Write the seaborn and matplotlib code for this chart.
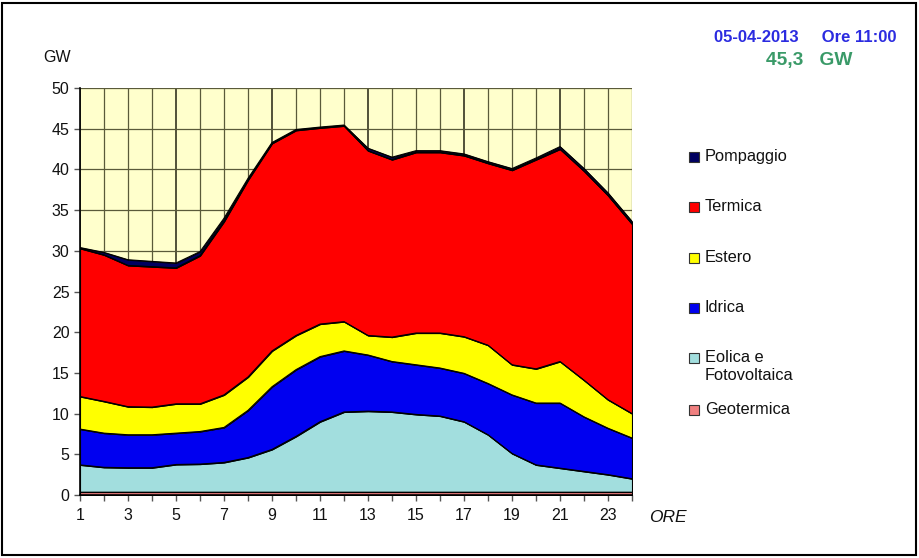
import numpy as np
import pandas as pd
import matplotlib
matplotlib.use("Agg")
import matplotlib.pyplot as plt
from matplotlib.patches import Rectangle
import seaborn as sns

# ---- data (GW per hour) ----
hours = list(range(1, 25))
series_names = ["Geotermica", "Eolica e\nFotovoltaica", "Idrica", "Estero", "Termica", "Pompaggio"]
geotermica = [0.4] * 24
eolica_fv = [3.3, 3.0, 2.95, 2.95, 3.35, 3.4, 3.6, 4.2, 5.2, 6.8, 8.6, 9.8,
             9.9, 9.8, 9.5, 9.3, 8.6, 7.0, 4.7, 3.3, 2.9, 2.5, 2.1, 1.6]
idrica = [4.4, 4.2, 4.05, 4.05, 3.85, 4.0, 4.3, 5.8, 7.7, 8.2, 8.0, 7.5,
          6.9, 6.2, 6.1, 5.9, 5.95, 6.3, 7.2, 7.6, 8.0, 6.7, 5.7, 5.0]
estero = [4.0, 3.9, 3.45, 3.4, 3.6, 3.4, 4.0, 4.1, 4.4, 4.2, 4.0, 3.6,
          2.4, 3.0, 3.9, 4.3, 4.5, 4.7, 3.7, 4.2, 5.1, 4.5, 3.5, 3.0]
termica = [18.2, 18.0, 17.35, 17.25, 16.7, 18.2, 21.3, 24.2, 25.5, 25.2, 24.1, 24.05,
           22.7, 21.8, 22.2, 22.2, 22.25, 22.35, 23.9, 25.7, 26.1, 25.7, 25.1, 23.3]
pompaggio = [0.1, 0.3, 0.7, 0.65, 0.6, 0.5, 0.4, 0.2, 0.1, 0.1, 0.1, 0.1,
             0.3, 0.3, 0.2, 0.2, 0.2, 0.2, 0.2, 0.2, 0.3, 0.3, 0.3, 0.3]
colors = ["#F08080", "#A2DEDE", "#0000F0", "#FFFF00", "#FF0000", "#000060"]
x_ticks = list(range(1, 25, 2))
y_ticks = list(range(0, 51, 5))
date_text = "05-04-2013     Ore 11:00"
peak_text = "45,3   GW"

df = pd.DataFrame({"ORE": hours, "Geotermica": geotermica, "Eolica": eolica_fv,
                   "Idrica": idrica, "Estero": estero, "Termica": termica,
                   "Pompaggio": pompaggio})
cols = ["Geotermica", "Eolica", "Idrica", "Estero", "Termica", "Pompaggio"]

sns.set_theme(style="white")
plt.rcParams["font.family"] = ["Liberation Sans", "DejaVu Sans"]

fig = plt.figure(figsize=(9.2, 5.58), dpi=100)
ax = fig.add_axes([80 / 920, 63 / 558, 552 / 920, 407 / 558])
ax.set_facecolor("#FFFFCC")

ax.stackplot(df["ORE"], [df[c] for c in cols], colors=colors,
             edgecolor="black", linewidth=0.8, zorder=3)
cum = df[cols].cumsum(axis=1)
long = cum.melt(ignore_index=False, var_name="s", value_name="v")
long["ORE"] = np.tile(df["ORE"].values, len(cols))
sns.lineplot(data=long, x="ORE", y="v", units="s", estimator=None,
             color="black", linewidth=0.8, ax=ax, zorder=4, legend=False)

ax.set_xlim(1, 24)
ax.set_ylim(0, 50)
ax.set_xticks(hours, minor=True)
ax.set_xticks(x_ticks)
ax.set_xticklabels([str(t) for t in x_ticks])
ax.set_yticks(y_ticks)
ax.set_xlabel("")
ax.set_ylabel("")

# grid
for h in hours:
    major = (h - 1) % 4 == 0
    ax.axvline(h, color="#222211" if major else "#5a5a3a",
               lw=1.1 if major else 0.9, zorder=1)
for yv in y_ticks:
    ax.axhline(yv, color="#5a5a3a", lw=0.9, zorder=1)

for s in ["top", "right"]:
    ax.spines[s].set_visible(False)
for s in ["left", "bottom"]:
    ax.spines[s].set_color("black")
    ax.spines[s].set_linewidth(1.2)
    ax.spines[s].set_zorder(5)
ax.tick_params(axis="both", which="both", direction="out", length=4, width=1,
               color="#555555", labelsize=11.5, left=True, bottom=True)
ax.tick_params(axis="x", pad=5)
for lab in ax.get_xticklabels() + ax.get_yticklabels():
    lab.set_color("#111111")

fig.text(57 / 920, 1 - 58 / 558, "GW", fontsize=11.5, ha="center", va="center", color="#111111")
fig.text(668 / 920, 1 - 518 / 558, "ORE", fontsize=12.5, style="italic", ha="center", va="center", color="#111111")
fig.text(897 / 920, 1 - 38 / 558, date_text, fontsize=12, fontweight="bold",
         color="#2B2BE0", ha="right", va="center")
fig.text(852 / 920, 1 - 60 / 558, peak_text, fontsize=13.8, fontweight="bold",
         color="#3A9A68", ha="right", va="center")

# legend (manual, matching reference spacing)
leg_y = [410, 358, 308, 258, 207, 157]  # first-line centres, px from top
for name, col, yy in zip(series_names, colors, leg_y):
    fig.add_artist(Rectangle((689 / 920, 1 - (yy + 5) / 558), 10 / 920, 10 / 558,
                             transform=fig.transFigure, facecolor=col,
                             edgecolor="#333333", linewidth=0.8))
    fig.text(705 / 920, 1 - (yy - 8) / 558, name, fontsize=11.8, ha="left", va="top",
             color="#111111", linespacing=1.25)

fig.add_artist(Rectangle((2 / 920, 3 / 558), 914 / 920, 552 / 558, transform=fig.transFigure,
                         fill=False, edgecolor="black", linewidth=1.5))

fig.savefig("out.png", dpi=100)
